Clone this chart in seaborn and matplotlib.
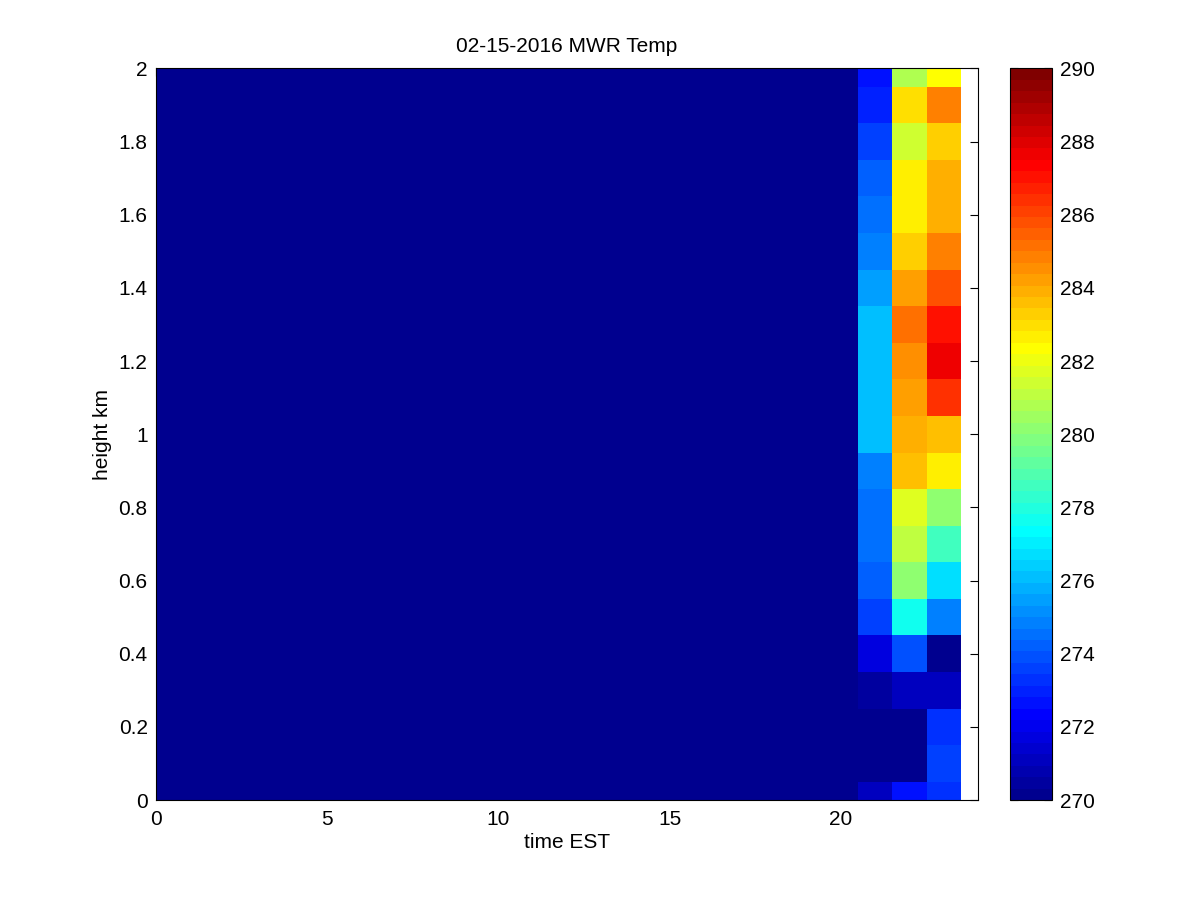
import matplotlib
matplotlib.use("Agg")
import matplotlib.pyplot as plt
import numpy as np
import seaborn as sns
from matplotlib.colors import ListedColormap

# grid edges (time in hours EST, height in km)
time_edges = [0.0, 20.5, 21.5, 22.5, 23.5]
height_edges = [0.0, 0.05, 0.15, 0.25, 0.35, 0.45, 0.55, 0.65, 0.75, 0.85, 0.95,
                1.05, 1.15, 1.25, 1.35, 1.45, 1.55, 1.65, 1.75, 1.85, 1.95, 2.0]

# temperature (K) per time block, bottom row to top row
temp_early = [262] * 21
temp_21 = [271.0, 270.0, 270.0, 270.5, 271.8, 273.5, 274.2, 274.4, 274.4, 274.8, 276.0,
           276.0, 276.0, 276.0, 275.5, 274.8, 274.4, 274.2, 273.5, 273.0, 272.5]
temp_22 = [272.5, 270.0, 270.1, 271.2, 273.9, 277.6, 280.3, 281.2, 281.8, 283.6, 284.0,
           284.1, 284.6, 285.3, 284.1, 283.4, 282.8, 282.5, 281.5, 283.0, 280.8]
temp_23 = [273.2, 273.5, 273.2, 271.0, 270.0, 274.8, 276.7, 278.6, 280.3, 282.8, 283.7,
           286.4, 287.7, 287.0, 285.8, 284.7, 284.0, 284.0, 283.4, 284.8, 282.4]

cbar_ticks = list(range(270, 291, 2))
x_ticks = [0, 5, 10, 15, 20]
y_ticks = [0, 0.2, 0.4, 0.6, 0.8, 1.0, 1.2, 1.4, 1.6, 1.8, 2.0]
y_labels = ["0", "0.2", "0.4", "0.6", "0.8", "1", "1.2", "1.4", "1.6", "1.8", "2"]


def matlab_jet(m=64):
    # same construction as MATLAB's jet(m)
    n = int(np.ceil(m / 4))
    u = np.concatenate([np.arange(1, n + 1) / n, np.ones(n - 1), np.arange(n, 0, -1) / n])
    g = int(np.ceil(n / 2)) - (1 if m % 4 == 1 else 0) + np.arange(1, len(u) + 1)
    r = g + n
    b = g - n
    J = np.zeros((m, 3))
    for col, idx in ((0, r), (1, g), (2, b)):
        ok = (idx >= 1) & (idx <= m)
        J[idx[ok] - 1, col] = u[ok]
    return ListedColormap(J)


sns.set_theme(style="white")
plt.rcParams["font.family"] = ["Liberation Sans", "DejaVu Sans"]
plt.rcParams["text.color"] = "black"
plt.rcParams["axes.labelcolor"] = "black"

fig = plt.figure(figsize=(12, 9), dpi=100)
ax = fig.add_axes([0.13, 0.111, 0.685, 0.813])
cax = fig.add_axes([0.8417, 0.111, 0.035, 0.813])

temps = np.column_stack([temp_early, temp_21, temp_22, temp_23])
mesh = ax.pcolormesh(time_edges, height_edges, temps, cmap=matlab_jet(64),
                     vmin=270, vmax=290, shading="flat")

fs = 15
ax.set_xlim(0, 24)
ax.set_ylim(0, 2)
ax.set_xticks(x_ticks)
ax.set_yticks(y_ticks, labels=y_labels)
ax.tick_params(axis="both", direction="in", length=6, width=0.8, top=True, right=True,
               labelsize=fs, colors="black")
ax.tick_params(axis="x", pad=7)
ax.tick_params(axis="y", pad=6)
for s in ax.spines.values():
    s.set_visible(True)
    s.set_color("black")
    s.set_linewidth(0.8)
ax.set_xlabel("time EST", fontsize=fs, labelpad=3)
ax.set_ylabel("height km", fontsize=fs, labelpad=5)
ax.set_title("02-15-2016 MWR Temp", fontsize=fs, pad=12)

cb = fig.colorbar(mesh, cax=cax, ticks=cbar_ticks)
cb.outline.set_edgecolor("black")
cb.outline.set_linewidth(0.8)
cax.tick_params(direction="in", length=6, width=0.8, left=True, right=True,
                labelsize=fs, colors="black", pad=6)

fig.savefig("out.png", dpi=100, facecolor="white")
